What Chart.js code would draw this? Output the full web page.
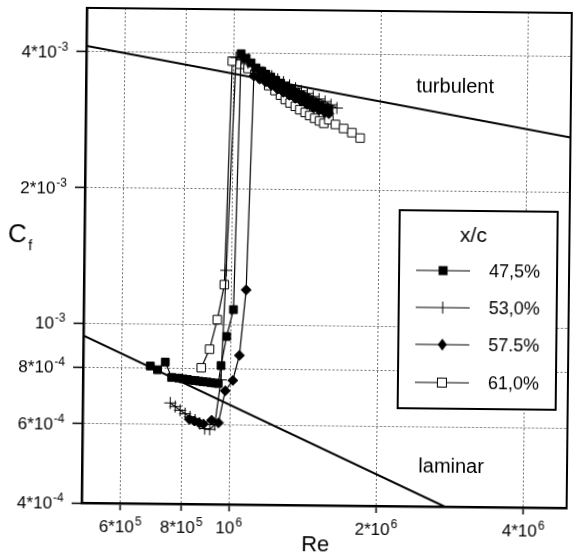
<!DOCTYPE html>
<html>
<head>
<meta charset="utf-8">
<script src="https://cdn.jsdelivr.net/npm/chart.js@4.4.0/dist/chart.umd.min.js"></script>
<style>
  body { margin: 0; background: #fff; }
  #wrap { width: 576px; height: 558px; overflow: hidden; }
  /* the scanned figure sits slightly tilted */
  canvas { transform: rotate(0.6deg); }
</style>
</head>
<body>
<div id="wrap"><canvas id="cfChart" width="576" height="558"></canvas></div>
<script>
// Re and skin friction Cf for each x/c station
const re475 = [686000, 710000, 736000, 759000, 785000, 801000, 817000, 832000, 848000, 864000,
  880000, 897000, 913000, 931000, 945000, 957000, 981000, 1012000, 1036000, 1061000,
  1086000, 1111000, 1137000, 1164000, 1192000, 1220000, 1249000, 1278000, 1309000, 1340000,
  1371000, 1404000, 1437000, 1471000, 1505000, 1541000, 1570000];
const cf475 = [8.07e-4, 7.92e-4, 8.24e-4, 7.62e-4, 7.60e-4, 7.57e-4, 7.55e-4, 7.52e-4, 7.51e-4, 7.49e-4,
  7.47e-4, 7.46e-4, 7.44e-4, 7.42e-4, 7.41e-4, 8.12e-4, 9.42e-4, 1.081e-3, 3.99e-3, 3.90e-3,
  3.81e-3, 3.715e-3, 3.66e-3, 3.60e-3, 3.55e-3, 3.49e-3, 3.44e-3, 3.39e-3, 3.345e-3, 3.29e-3,
  3.25e-3, 3.20e-3, 3.16e-3, 3.12e-3, 3.08e-3, 3.04e-3, 3.01e-3];

const re530 = [755000, 773000, 791000, 810000, 829000, 849000, 869000, 889000, 910000, 932000,
  957000, 976000, 1012000, 1041000, 1071000, 1101000, 1132000, 1164000, 1198000, 1232000,
  1266000, 1303000, 1340000, 1378000, 1417000, 1457000, 1498000, 1541000, 1585000, 1630000];
const cf530 = [6.69e-4, 6.57e-4, 6.45e-4, 6.34e-4, 6.24e-4, 6.14e-4, 6.03e-4, 5.88e-4, 5.86e-4, 6.00e-4,
  7.55e-4, 1.32e-3, 3.91e-3, 3.89e-3, 3.81e-3, 3.75e-3, 3.68e-3, 3.62e-3, 3.565e-3, 3.51e-3,
  3.46e-3, 3.405e-3, 3.355e-3, 3.31e-3, 3.27e-3, 3.22e-3, 3.18e-3, 3.14e-3, 3.09e-3, 3.04e-3];

const re575 = [827000, 846000, 864000, 883000, 918000, 948000, 977000, 1012000, 1043000, 1073000,
  1101000, 1132000, 1164000, 1198000, 1232000, 1266000, 1303000, 1340000, 1378000, 1417000,
  1457000, 1498000, 1541000, 1570000];
const cf575 = [6.16e-4, 6.11e-4, 6.06e-4, 6.02e-4, 6.14e-4, 6.06e-4, 7.14e-4, 7.53e-4, 8.56e-4, 1.196e-3,
  3.565e-3, 3.51e-3, 3.46e-3, 3.40e-3, 3.336e-3, 3.285e-3, 3.236e-3, 3.186e-3, 3.14e-3, 3.09e-3,
  3.04e-3, 3.005e-3, 2.967e-3, 2.952e-3];

const re610 = [872000, 906000, 938000, 968000, 994000, 1031000, 1071000, 1106000, 1143000, 1181000,
  1217000, 1249000, 1278000, 1307000, 1340000, 1369000, 1404000, 1435000, 1469000, 1503000,
  1534000, 1570000, 1620000, 1684000, 1751000, 1821000];
const cf610 = [8.02e-4, 8.82e-4, 1.026e-3, 1.227e-3, 3.84e-3, 3.78e-3, 3.70e-3, 3.60e-3, 3.524e-3, 3.396e-3,
  3.311e-3, 3.236e-3, 3.166e-3, 3.111e-3, 3.059e-3, 3.008e-3, 2.967e-3, 2.921e-3, 2.881e-3, 2.843e-3,
  2.809e-3, 2.862e-3, 2.795e-3, 2.739e-3, 2.683e-3, 2.611e-3];

// reference lines
const turbRe = [500000, 4900000];
const turbCf = [4.12e-3, 2.65e-3];
const lamRe = [500000, 2760000];
const lamCf = [9.4e-4, 4.0e-4];

const stationLabels = ["47,5%", "53,0%", "57.5%", "61,0%"];

// tick values, labels split into base and exponent
const reTicks = [6e5, 8e5, 1e6, 2e6, 4e6];
const reTickBase = ["6*10", "8*10", "10", "2*10", "4*10"];
const reTickExp = ["5", "5", "6", "6", "6"];
const cfTicks = [4e-4, 6e-4, 8e-4, 1e-3, 2e-3, 4e-3];
const cfTickBase = ["4*10", "6*10", "8*10", "10", "2*10", "4*10"];
const cfTickExp = ["-4", "-4", "-4", "-3", "-3", "-3"];

const FONT = "'Liberation Sans', Arial, Helvetica, sans-serif";

function pts(xs, ys) {
  return xs.map((x, i) => ({ x: x, y: ys[i] }));
}

function series(label, xs, ys, style) {
  return Object.assign({
    label: label,
    data: pts(xs, ys),
    borderColor: "#000",
    borderWidth: 1.2,
    pointBorderColor: "#000",
    pointBorderWidth: 1,
    tension: 0
  }, style);
}

// "a*10" with a raised exponent
function drawPow(ctx, base, exp, x, y, align) {
  ctx.font = "17px " + FONT;
  const w1 = ctx.measureText(base).width;
  ctx.font = "12px " + FONT;
  const w2 = ctx.measureText(exp).width;
  const w = w1 + 1 + w2;
  const x0 = align === "right" ? x - w : x - w / 2;
  ctx.textAlign = "left";
  ctx.textBaseline = "alphabetic";
  ctx.font = "17px " + FONT;
  ctx.fillText(base, x0, y);
  ctx.font = "12px " + FONT;
  ctx.fillText(exp, x0 + w1 + 1, y - 7);
}

// tick labels, text, frame and legend box
const decor = {
  id: "decor",
  afterDraw(chart) {
    const { ctx, chartArea: a, scales } = chart;
    const x = scales.x, y = scales.y;
    ctx.save();
    ctx.strokeStyle = "#000";
    ctx.fillStyle = "#000";
    ctx.lineWidth = 2;
    ctx.beginPath();
    ctx.moveTo(a.left, a.top);
    ctx.lineTo(a.right, a.top);
    ctx.lineTo(a.right, a.bottom);
    ctx.stroke();

    reTicks.forEach((v, i) => drawPow(ctx, reTickBase[i], reTickExp[i], x.getPixelForValue(v), a.bottom + 29, "center"));
    cfTicks.forEach((v, i) => drawPow(ctx, cfTickBase[i], cfTickExp[i], a.left - 18, y.getPixelForValue(v) + 6, "right"));

    ctx.textAlign = "center";
    ctx.textBaseline = "middle";
    ctx.font = "20px " + FONT;
    ctx.fillText("turbulent", x.getPixelForValue(2.84e6), y.getPixelForValue(3.4e-3));
    ctx.fillText("laminar", x.getPixelForValue(2.84e6), y.getPixelForValue(4.89e-4));

    ctx.font = "22px " + FONT;
    ctx.fillText("Re", 318, 545);
    ctx.font = "26px " + FONT;
    ctx.fillText("C", 17, 238);
    ctx.font = "14px " + FONT;
    ctx.fillText("f", 30, 249);

    // legend
    const bx = 399, by = 209, bw = 158, bh = 198;
    ctx.fillStyle = "#fff";
    ctx.fillRect(bx, by, bw, bh);
    ctx.lineWidth = 2;
    ctx.strokeRect(bx, by, bw, bh);
    ctx.fillStyle = "#000";
    ctx.font = "21px " + FONT;
    ctx.fillText("x/c", 473, 234);
    ctx.font = "18px " + FONT;
    ctx.textAlign = "left";
    const rows = [269, 306, 343, 381];
    rows.forEach((ry, i) => {
      ctx.lineWidth = 1;
      ctx.strokeStyle = "#000";
      ctx.beginPath();
      ctx.moveTo(416, ry);
      ctx.lineTo(470, ry);
      ctx.stroke();
      const cx = 443;
      if (i === 0) {
        ctx.fillRect(cx - 4.5, ry - 4.5, 9, 9);
      } else if (i === 1) {
        ctx.beginPath();
        ctx.moveTo(cx, ry - 6);
        ctx.lineTo(cx, ry + 6);
        ctx.stroke();
      } else if (i === 2) {
        ctx.beginPath();
        ctx.moveTo(cx, ry - 6);
        ctx.lineTo(cx + 4.5, ry);
        ctx.lineTo(cx, ry + 6);
        ctx.lineTo(cx - 4.5, ry);
        ctx.closePath();
        ctx.fill();
      } else {
        ctx.fillStyle = "#fff";
        ctx.fillRect(cx - 4.5, ry - 4.5, 9, 9);
        ctx.fillStyle = "#000";
        ctx.strokeRect(cx - 4.5, ry - 4.5, 9, 9);
      }
      ctx.fillText(stationLabels[i], 489, ry + 1);
    });
    ctx.restore();
  }
};

const gridOpts = { color: "#6e6e6e", lineWidth: 1, tickColor: "#000", tickWidth: 1.5 };
const borderOpts = { display: true, color: "#000", width: 2.5, dash: [2, 2] };

new Chart(document.getElementById("cfChart"), {
  type: "line",
  data: {
    datasets: [
      series(stationLabels[0], re475, cf475, { pointStyle: "rect", pointRadius: 5.5, pointBackgroundColor: "#000" }),
      series(stationLabels[1], re530, cf530, { pointStyle: "cross", pointRadius: 6, pointBackgroundColor: "#000" }),
      series(stationLabels[2], re575, cf575, { pointStyle: "rectRot", pointRadius: 5, pointBackgroundColor: "#000" }),
      series(stationLabels[3], re610, cf610, { pointStyle: "rect", pointRadius: 6, pointBackgroundColor: "#fff" }),
      { label: "turbulent", data: pts(turbRe, turbCf), borderColor: "#000", borderWidth: 2, pointRadius: 0 },
      { label: "laminar", data: pts(lamRe, lamCf), borderColor: "#000", borderWidth: 2, pointRadius: 0 }
    ]
  },
  options: {
    responsive: false,
    animation: false,
    layout: { padding: { top: 10, right: 3, bottom: 0, left: 0 } },
    plugins: { legend: { display: false }, tooltip: { enabled: false } },
    scales: {
      x: {
        type: "logarithmic",
        min: 500000,
        max: 4900000,
        afterBuildTicks: (s) => { s.ticks = reTicks.map((v) => ({ value: v })); },
        afterFit: (s) => { s.height = 53; },
        grid: Object.assign({ tickLength: 7 }, gridOpts),
        border: borderOpts,
        ticks: { display: false }
      },
      y: {
        type: "logarithmic",
        min: 4e-4,
        max: 5e-3,
        afterBuildTicks: (s) => { s.ticks = cfTicks.map((v) => ({ value: v })); },
        afterFit: (s) => { s.width = 84; },
        grid: Object.assign({ tickLength: 10 }, gridOpts),
        border: borderOpts,
        ticks: { display: false }
      }
    }
  },
  plugins: [decor]
});
</script>
</body>
</html>
